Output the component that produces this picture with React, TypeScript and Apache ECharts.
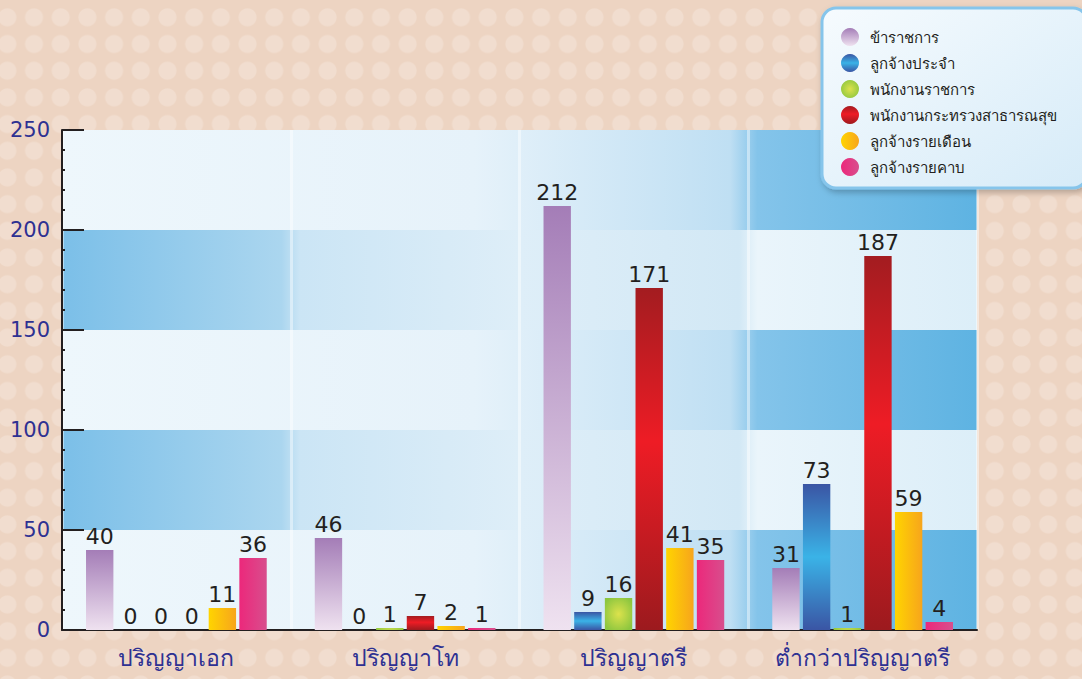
import React, { useEffect, useRef } from "react";
import * as echarts from "echarts";

const categories = ["ปริญญาเอก", "ปริญญาโท", "ปริญญาตรี", "ต่ำกว่าปริญญาตรี"];
const seriesNames = [
  "ข้าราชการ",
  "ลูกจ้างประจำ",
  "พนักงานราชการ",
  "พนักงานกระทรวงสาธารณสุข",
  "ลูกจ้างรายเดือน",
  "ลูกจ้างรายคาบ",
];
const civilServants = [40, 46, 212, 31];
const permanentEmployees = [0, 0, 9, 73];
const governmentEmployees = [0, 1, 16, 1];
const mophEmployees = [0, 7, 171, 187];
const monthlyEmployees = [11, 2, 41, 59];
const hourlyEmployees = [36, 1, 35, 4];
const yTicks = [0, 50, 100, 150, 200, 250];

const lin = (x2: number, y2: number, stops: [number, string][]) =>
  new echarts.graphic.LinearGradient(0, 0, x2, y2, stops.map(([offset, color]) => ({ offset, color })));

const seriesColors = [
  lin(0, 1, [[0, "#A47DB7"], [1, "#EFE2F0"]]),
  lin(0, 1, [[0, "#3A55A4"], [0.5, "#3AB3E7"], [1, "#3A55A4"]]),
  new echarts.graphic.RadialGradient(0.5, 0.5, 0.6, [
    { offset: 0, color: "#DCE24C" },
    { offset: 1, color: "#8CC63F" },
  ]),
  lin(0, 1, [[0, "#A31C20"], [0.45, "#EE1C25"], [1, "#9C1A1E"]]),
  lin(1, 0, [[0, "#FFD400"], [1, "#F7A51C"]]),
  lin(1, 0, [[0, "#EC287B"], [1, "#D84E8D"]]),
];

const seriesData = [
  civilServants,
  permanentEmployees,
  governmentEmployees,
  mophEmployees,
  monthlyEmployees,
  hourlyEmployees,
];

const evenBand = lin(1, 0, [
  [0, "#EEF7FC"],
  [0.45, "#E6F2FA"],
  [0.73, "#BFDFF3"],
  [0.76, "#84C4EA"],
  [1, "#5EB3E2"],
]);
const oddBand = lin(1, 0, [
  [0, "#7BBFE8"],
  [0.24, "#ABD6EF"],
  [0.26, "#CBE5F5"],
  [0.5, "#DEEEF8"],
  [0.74, "#D2E8F5"],
  [0.76, "#EAF5FB"],
  [1, "#DCEEF8"],
]);

const thaiFont = 'Tahoma, "Noto Sans", "DejaVu Sans", sans-serif';

export default function App() {
  const ref = useRef<HTMLDivElement>(null);
  useEffect(() => {
    document.body.style.margin = "0";
    const chart = echarts.init(ref.current!, null, { renderer: "svg" });
    chart.setOption({
      animation: false,
      legend: {
        orient: "vertical",
        left: 822,
        top: 8,
        data: seriesNames,
        icon: "circle",
        itemWidth: 18,
        itemHeight: 18,
        itemGap: 8,
        padding: [20, 30, 12, 19],
        backgroundColor: lin(1, 1, [[0, "#F6FBFE"], [1, "#D6EBF8"]]),
        borderColor: "#86C5EB",
        borderWidth: 3,
        borderRadius: 14,
        shadowColor: "rgba(0,0,0,0.25)",
        shadowBlur: 6,
        shadowOffsetX: 2,
        shadowOffsetY: 3,
        textStyle: { fontSize: 15, color: "#231F20", fontFamily: thaiFont, padding: [0, 0, 0, 6] },
      },
      grid: { left: 62, right: 105, top: 130, bottom: 49 },
      xAxis: {
        type: "category",
        data: categories,
        axisLine: { lineStyle: { color: "#231F20", width: 2 } },
        axisTick: { inside: true, length: 12, lineStyle: { color: "#231F20", width: 2 } },
        axisLabel: { fontSize: 23, color: "#2E3192", margin: 15, fontFamily: thaiFont },
        splitLine: { show: true, lineStyle: { color: "rgba(255,255,255,0.45)", width: 3 } },
      },
      yAxis: {
        type: "value",
        min: 0,
        max: 250,
        interval: 50,
        axisLine: { show: true, lineStyle: { color: "#231F20", width: 2 } },
        axisTick: { show: true, inside: true, length: 22, lineStyle: { color: "#231F20", width: 2 } },
        minorTick: { show: true, splitNumber: 5, length: 3, lineStyle: { color: "#231F20", width: 2 } },
        axisLabel: {
          fontSize: 21,
          color: "#2E3192",
          margin: 12,
          padding: [0, 0, 10, 0],
          fontFamily: '"DejaVu Sans", sans-serif',
          formatter: (v: number) => (yTicks.includes(v) ? String(v) : ""),
        },
        splitLine: { show: false },
        splitArea: { show: true, areaStyle: { color: [evenBand, oddBand] } },
      },
      series: seriesNames.map((name, i) => ({
        name,
        type: "bar",
        data: seriesData[i],
        barGap: "12%",
        barCategoryGap: "21%",
        itemStyle: { color: seriesColors[i] },
        label: {
          show: true,
          position: "top",
          distance: 3,
          fontSize: 22,
          color: "#231F20",
          fontFamily: '"DejaVu Sans", sans-serif',
        },
      })),
    });
    return () => chart.dispose();
  }, []);
  return (
    <div
      style={{
        width: 1082,
        height: 679,
        backgroundColor: "#EDD4C2",
        backgroundImage: "radial-gradient(circle, #F1DDCF 8.5px, rgba(0,0,0,0) 9.5px)",
        backgroundSize: "26.7px 26.7px",
        backgroundPosition: "-6px 4px",
      }}
    >
      <div ref={ref} style={{ width: 1082, height: 679 }} />
    </div>
  );
}
